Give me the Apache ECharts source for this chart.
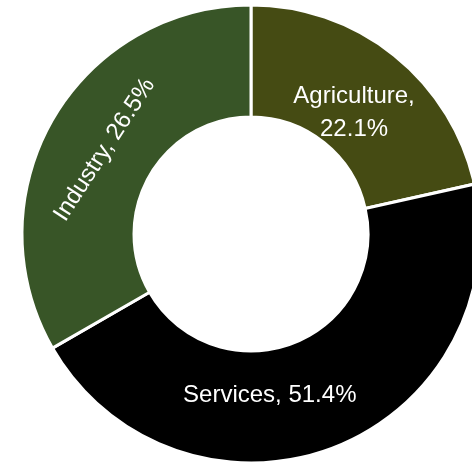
<!DOCTYPE html>
<html>
<head>
<meta charset="utf-8">
<script src="https://cdn.jsdelivr.net/npm/echarts@6/dist/echarts.min.js"></script>
<style>
html,body{margin:0;padding:0;background:#fff;}
#chart{width:472px;height:465px;}
</style>
</head>
<body>
<div id="chart"></div>
<script>
// Sectors (categories) in drawing order, clockwise from 12 o'clock
const categories = ['Agriculture', 'Services', 'Industry'];
// Slice sizes
const sliceValues = [21.5, 45.2, 33.3];
// Percentages printed on the labels
const shownPercents = ['22.1%', '51.4%', '26.5%'];
const sliceColors = ['#454b13', '#000000', '#385527'];

const labelStyles = [
  { text: '{t|' + categories[0] + ',}\n{t|' + shownPercents[0] + '}', rotate: 0, padding: [32, 14, 0, 0] },
  { text: '{t|' + categories[1] + ', ' + shownPercents[1] + '}', rotate: 0, padding: [0, 90, 6, 0] },
  { text: '{t|' + categories[2] + ', ' + shownPercents[2] + '}', rotate: 57, padding: [14, 0, 0, 0] }
];

const textStyle = {
  color: '#ffffff',
  fontFamily: 'Liberation Sans, Arial, sans-serif',
  fontSize: 24,
  lineHeight: 33
};

const chart = echarts.init(document.getElementById('chart'), null, { renderer: 'canvas' });
chart.setOption({
  animation: false,
  backgroundColor: '#ffffff',
  series: [{
    type: 'pie',
    center: [251, 234],
    radius: [117, 229],
    startAngle: 90,
    clockwise: true,
    avoidLabelOverlap: false,
    emphasis: { disabled: true },
    itemStyle: { borderColor: '#ffffff', borderWidth: 3 },
    label: Object.assign({
      show: true,
      position: 'inside',
      align: 'center',
      verticalAlign: 'middle',
      rich: { t: Object.assign({}, textStyle) }
    }, textStyle),
    labelLine: { show: false },
    data: categories.map((c, i) => ({
      name: c,
      value: sliceValues[i],
      itemStyle: { color: sliceColors[i] },
      label: {
        formatter: labelStyles[i].text,
        rotate: labelStyles[i].rotate,
        padding: labelStyles[i].padding
      }
    }))
  }]
});
</script>
</body>
</html>
